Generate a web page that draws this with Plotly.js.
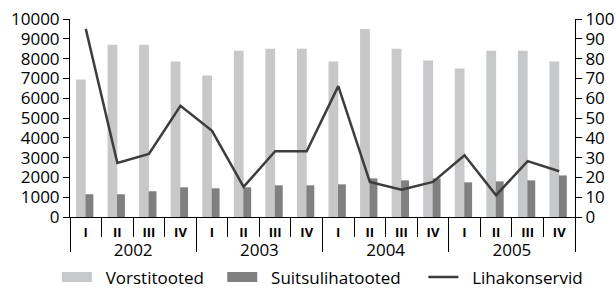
<!DOCTYPE html>
<html>
<head>
<meta charset="utf-8">
<script src="https://cdn.plot.ly/plotly-3.0.1.min.js"></script>
<style>html,body{margin:0;padding:0;background:#fff;}#chart{width:616px;height:289px;}</style>
</head>
<body>
<div id="chart"></div>
<script>
const years = ['2002', '2003', '2004', '2005'];
const quarters = ['I', 'II', 'III', 'IV'];
const vorstitooted = [6950, 8700, 8700, 7850, 7150, 8400, 8500, 8500, 7850, 9500, 8500, 7900, 7500, 8400, 8400, 7850];
const suitsulihatooted = [1150, 1150, 1300, 1500, 1450, 1500, 1600, 1600, 1650, 1950, 1850, 1950, 1750, 1800, 1850, 2100];
const lihakonservid = [95, 27.3, 31.9, 56.2, 43.5, 15.2, 33.2, 33.2, 66.1, 17.7, 13.8, 17.7, 31.2, 11.0, 28.2, 23.1];
const seriesNames = ['Vorstitooted', 'Suitsulihatooted', 'Lihakonservid'];

// category positions (index of each quarter) and axis helpers built from the arrays
const nQ = quarters.length, n = years.length * nQ;
const idx = [], qText = [];
years.forEach((y, yi) => quarters.forEach((q, qi) => { idx.push(yi * nQ + qi); qText.push(q); }));
const qBounds = [...Array(n + 1).keys()].map(i => i - 0.5);
const yCenters = years.map((y, yi) => yi * nQ + (nQ - 1) / 2);
const yBounds = [...Array(years.length + 1).keys()].map(i => i * nQ - 0.5);
const xr = [-0.5, n - 0.5];

const FONT = 'Open Sans, sans-serif';
const lead = '\u00a0\u00a0';
const trail = '\u00a0\u00a0\u00a0';
const trail2 = '\u00a0\u00a0\u00a0\u00a0';

const traces = [
  {type: 'bar', name: seriesNames[0], x: idx, y: vorstitooted, showlegend: false,
   marker: {color: '#c7c8ca', line: {width: 0}}, width: 0.31, offset: -0.31},
  {type: 'bar', name: seriesNames[1], x: idx, y: suitsulihatooted, showlegend: false,
   marker: {color: '#808080', line: {width: 0}}, width: 0.25, offset: -0.01},
  {type: 'scatter', mode: 'lines', name: seriesNames[2], x: idx, y: lihakonservid,
   xaxis: 'x2', yaxis: 'y2', showlegend: false,
   line: {color: '#3d3d3d', width: 2.5}},
  // legend entries
  {type: 'scatter', mode: 'lines', name: lead + seriesNames[0] + trail, x: [null], y: [null],
   line: {color: '#c7c8ca', width: 10}},
  {type: 'scatter', mode: 'lines', name: lead + seriesNames[1] + trail2, x: [null], y: [null],
   line: {color: '#808080', width: 10}},
  {type: 'scatter', mode: 'lines', name: lead + seriesNames[2], x: [null], y: [null],
   line: {color: '#3d3d3d', width: 2.5}}
];

const layout = {
  width: 616, height: 289,
  margin: {l: 70, r: 41, t: 19, b: 72, autoexpand: false},
  paper_bgcolor: '#fff', plot_bgcolor: '#fff',
  font: {family: FONT, size: 17, color: '#000'},
  showlegend: true,
  barmode: 'overlay',
  xaxis: {
    type: 'linear', range: xr, fixedrange: true,
    showline: true, linecolor: '#000', linewidth: 1,
    tickmode: 'array', tickvals: idx, ticktext: qText, ticks: '',
    ticklabelstandoff: 3,
    minor: {tickmode: 'array', tickvals: qBounds, ticks: 'outside', ticklen: 19, tickcolor: '#000', tickwidth: 1, showgrid: false},
    showgrid: false, zeroline: false,
    tickfont: {family: FONT, size: 13, color: '#000', weight: 'bold'}
  },
  xaxis2: {
    type: 'linear', range: xr, overlaying: 'x', side: 'bottom', anchor: 'y',
    showline: false,
    tickmode: 'array', tickvals: yCenters, ticktext: years, ticks: '',
    ticklabelstandoff: 21,
    minor: {tickmode: 'array', tickvals: yBounds, ticks: 'outside', ticklen: 34, tickcolor: '#000', tickwidth: 1, showgrid: false},
    showgrid: false, zeroline: false,
    tickfont: {family: FONT, size: 17, color: '#000'}
  },
  yaxis: {
    range: [0, 10000], dtick: 1000, tickformat: 'd', showgrid: false, zeroline: false,
    showline: true, linecolor: '#000', linewidth: 1,
    ticks: 'outside', ticklen: 6, tickcolor: '#000',
    tickfont: {family: FONT, size: 17, color: '#000'}
  },
  yaxis2: {
    range: [0, 100], dtick: 10, overlaying: 'y', side: 'right',
    showgrid: false, zeroline: false,
    showline: true, linecolor: '#000', linewidth: 1,
    ticks: 'outside', ticklen: 6, tickcolor: '#000',
    tickfont: {family: FONT, size: 17, color: '#000'}
  },
  legend: {
    orientation: 'h', x: -0.026, xanchor: 'left', xref: 'paper',
    y: -0.305, yanchor: 'middle', yref: 'paper',
    font: {family: FONT, size: 17, color: '#000'},
    traceorder: 'normal', itemwidth: 30
  }
};

Plotly.newPlot('chart', traces, layout, {staticPlot: true});
</script>
</body>
</html>
